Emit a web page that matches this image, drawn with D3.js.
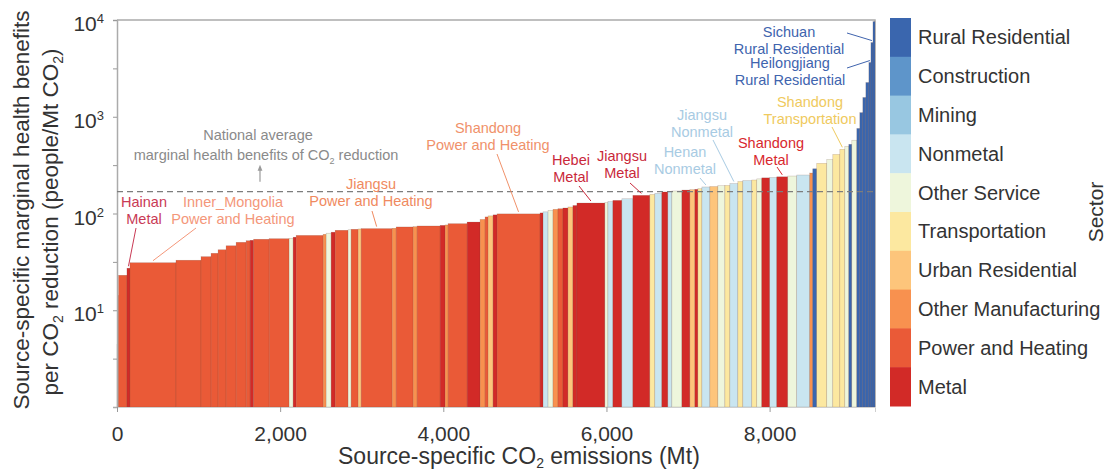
<!DOCTYPE html>
<html><head><meta charset="utf-8">
<script src="https://cdn.jsdelivr.net/npm/d3@7"></script>
<style>
html,body{margin:0;padding:0;background:#fff;}
svg{display:block;font-family:"Liberation Sans",Arial,Helvetica,sans-serif;}
</style></head><body>
<svg id="chart" width="1110" height="473"></svg>
<script>
// Sector legend, top to bottom
const sectors = ["Rural Residential","Construction","Mining","Nonmetal","Other Service",
  "Transportation","Urban Residential","Other Manufacturing","Power and Heating","Metal"];
const sectorColors = ["#3a66ae","#5e95ca","#98c7e1","#c9e5f0","#eef6dc",
  "#fce8a0","#fdc57b","#f8914f","#ea5a37","#d22a27"];
const sectorCodes = ["RR","CO","MI","NM","OS","TR","UR","OM","PH","ME"];

// Emission sources sorted by marginal benefit
const sourceSector = ["PH","PH","PH","PH","ME","PH","PH","PH","PH","PH",
  "PH","PH","PH","ME","PH","PH","OS","ME","PH","OM",
  "OS","ME","PH","OS","PH","UR","PH","OM","PH","OM",
  "PH","ME","OM","PH","ME","OM","PH","UR","ME","PH",
  "ME","NM","OS","OM","PH","ME","UR","ME","ME","OS",
  "NM","ME","NM","ME","TR","NM","ME","NM","OS","ME",
  "UR","ME","TR","NM","UR","OS","TR","NM","TR","NM",
  "TR","OS","ME","NM","ME","OS","NM","OM","RR","TR",
  "OS","TR","TR","OS","RR","OS","RR","RR","RR","RR",
  "RR","RR","RR"];
const sourceEmissions = [6,6,6,104,37,564,307,123,86,98,
  123,123,49,43,190,245,49,37,331,37,
  61,49,159,37,86,37,380,49,208,49,
  282,61,37,233,159,61,37,61,49,527,
  37,61,61,61,61,61,61,49,343,37,
  61,110,135,208,61,86,74,49,123,98,
  61,37,49,98,98,86,61,98,61,110,
  61,61,98,86,135,110,159,37,49,123,
  74,86,61,49,37,61,37,37,37,37,
  25,25,25];
const sourceBenefit = [4.4,7.9,14.3,23.0,27.2,31.0,32.9,35.8,38.8,42.2,
  46.4,50.4,52.3,52.9,54.2,54.9,55.5,56.9,59.4,61.0,
  62.6,64.1,67.1,67.9,68.7,69.2,69.8,70.4,72.6,73.1,
  74.3,75.4,76.2,78.5,81.6,86.9,92.2,94.5,96.8,99.1,
  101.4,104,107.9,110.5,112,114,116.8,121,128.3,130,
  133,136.6,142,154,157.5,161.6,166.9,169.5,171,174.7,
  176.5,177.7,180.4,188,190,194,195,204,214,219,
  222,228,233.5,236,239.5,244,250,262,290,330,
  362,408,461,494,519,572,757,1103,1582,2259,
  3634,5845,9627];

const nationalAverage = 168;
const xTickValues = [0, 2000, 4000, 6000, 8000];
const yTickValues = [Math.sqrt(10), 10, Math.sqrt(1000), 100, Math.sqrt(100000), 1000, Math.sqrt(1e7), 10000];
const yLabelValues = [10, 100, 1000, 10000];

// Highlighted sources: index into the source arrays and the label lines
const highlightSource = [4, 5, 26, 39, 48, 53, 63, 67, 74, 82, 90, 91];
const highlightText = [
  ["Hainan","Metal"], ["Inner_Mongolia","Power and Heating"], ["Jiangsu","Power and Heating"],
  ["Shandong","Power and Heating"], ["Hebei","Metal"], ["Jiangsu","Metal"],
  ["Henan","Nonmetal"], ["Jiangsu","Nonmetal"], ["Shandong","Metal"],
  ["Shandong","Transportation"], ["Heilongjiang","Rural Residential"], ["Sichuan","Rural Residential"]];

// label placement: centre x, first baseline y, leader start
const labelLayout = [
  {x:144, y:207, lx:136, ly:228, color:"#c93a55"},
  {x:233, y:207, lx:196, ly:228, color:"#f4977a"},
  {x:371, y:189, lx:372, ly:211, color:"#f08a60"},
  {x:488, y:133, lx:497, ly:154, color:"#f0916a"},
  {x:571, y:165, lx:579, ly:186, color:"#c9283a"},
  {x:622, y:161, lx:630, ly:183, color:"#c9283a"},
  {x:685, y:157, lx:700, ly:178, color:"#a8cbe3"},
  {x:702, y:120, lx:713, ly:140, color:"#a8cbe3"},
  {x:771, y:148, lx:777, ly:167, color:"#d8282e"},
  {x:810, y:107, lx:832, ly:127, color:"#efca5e"},
  {x:790, y:68, lx:847, ly:68, color:"#4064ae"},
  {x:789, y:37, lx:847, ly:33, color:"#4064ae"}];

const svg = d3.select("#chart");
const plotLeft = 117, plotRight = 875, plotTop = 20, plotBottom = 407;
const total = d3.sum(sourceEmissions);
const x = d3.scaleLinear().domain([0, total]).range([plotLeft, plotRight]);
const y = d3.scaleLog().domain([1, 10000]).range([plotBottom, plotTop]);
const color = d3.scaleOrdinal().domain(sectorCodes).range(sectorColors);

const starts = d3.cumsum([0].concat(sourceEmissions));
const sources = sourceEmissions.map((e, i) => ({
  sector: sourceSector[i], x0: starts[i], x1: starts[i] + e, v: sourceBenefit[i]}));

// frame
svg.append("path")
  .attr("d", `M${plotLeft},${plotTop}H${plotRight}V${plotBottom}`)
  .attr("fill", "none").attr("stroke", "#ababab").attr("stroke-width", 1.5);

// bars
svg.append("g").selectAll("rect").data(sources).join("rect")
  .attr("x", d => x(d.x0))
  .attr("width", d => Math.max(0.3, x(d.x1) - x(d.x0)))
  .attr("y", d => y(d.v))
  .attr("height", d => plotBottom - y(d.v))
  .attr("fill", d => color(d.sector))
  .attr("stroke", "rgba(110,70,60,0.35)")
  .attr("stroke-width", 0.5);

// y axis
const yAxis = svg.append("g").attr("transform", `translate(${plotLeft},0)`)
  .call(d3.axisLeft(y).tickValues(yTickValues).tickSize(4).tickFormat(""));
yAxis.select(".domain").attr("stroke", "#ababab").attr("stroke-width", 1.5);
yAxis.selectAll(".tick line").attr("stroke", "#999");
const yl = svg.append("g").selectAll("text").data(yLabelValues).join("text")
  .attr("x", 104).attr("y", d => y(d) + 11)
  .attr("text-anchor", "end").attr("font-size", 21).attr("fill", "#333");
yl.append("tspan").text("10");
yl.append("tspan").text(d => Math.round(Math.log10(d)))
  .attr("font-size", 13).attr("dy", -8);

// x axis
const xAxis = svg.append("g").attr("transform", `translate(0,${plotBottom})`)
  .call(d3.axisBottom(x).tickValues(xTickValues).tickSize(5).tickFormat(d3.format(",")));
xAxis.select(".domain").attr("stroke", "#cfcfcf");
xAxis.selectAll(".tick line").attr("stroke", "#999");
xAxis.selectAll(".tick text").attr("font-size", 21).attr("fill", "#333")
  .attr("dy", null).attr("y", 34);

// axis titles
const xt = svg.append("text").attr("x", 338).attr("y", 464)
  .attr("font-size", 23).attr("fill", "#333");
xt.append("tspan").text("Source-specific CO");
xt.append("tspan").text("2").attr("font-size", 14).attr("dy", 4);
xt.append("tspan").text(" emissions (Mt)").attr("dy", -4);

svg.append("text").attr("transform", "translate(29,210) rotate(-90)")
  .attr("text-anchor", "middle").attr("font-size", 22.5).attr("fill", "#333")
  .text("Source-specific marginal health benefits");
const yt2 = svg.append("text").attr("transform", "translate(58,222) rotate(-90)")
  .attr("text-anchor", "middle").attr("font-size", 22.5).attr("fill", "#333");
yt2.append("tspan").text("per CO");
yt2.append("tspan").text("2").attr("font-size", 14).attr("dy", 5);
yt2.append("tspan").text(" reduction (people/Mt CO").attr("dy", -5);
yt2.append("tspan").text("2").attr("font-size", 14).attr("dy", 5);
yt2.append("tspan").text(")").attr("dy", -5);

// national average
svg.append("line")
  .attr("x1", plotLeft).attr("x2", plotRight)
  .attr("y1", y(nationalAverage)).attr("y2", y(nationalAverage))
  .attr("stroke", "#7d7d7d").attr("stroke-width", 1.3).attr("stroke-dasharray", "6,4");
svg.append("defs").append("marker").attr("id", "arrow")
  .attr("viewBox", "0 0 10 10").attr("refX", 5).attr("refY", 5)
  .attr("markerWidth", 5).attr("markerHeight", 5).attr("orient", "auto-start-reverse")
  .append("path").attr("d", "M0,1L10,5L0,9Z").attr("fill", "#9a9a9a");
svg.append("line").attr("x1", 260).attr("x2", 260)
  .attr("y1", y(nationalAverage) - 10).attr("y2", y(nationalAverage) - 24)
  .attr("stroke", "#9a9a9a").attr("stroke-width", 1.2).attr("marker-end", "url(#arrow)");
svg.append("text").attr("x", 258).attr("y", 140).attr("text-anchor", "middle")
  .attr("font-size", 14.5).attr("fill", "#8a8a8a").text("National average");
const na = svg.append("text").attr("x", 266).attr("y", 160).attr("text-anchor", "middle")
  .attr("font-size", 14.5).attr("fill", "#8a8a8a");
na.append("tspan").text("marginal health benefits of CO");
na.append("tspan").text("2").attr("font-size", 9).attr("dy", 4);
na.append("tspan").text(" reduction").attr("dy", -4);

// highlighted sources
const ann = svg.append("g");
highlightSource.forEach((si, k) => {
  const s = sources[si], L = labelLayout[k];
  const tx = x((s.x0 + s.x1) / 2), ty = y(s.v) - 2;
  ann.append("line").attr("x1", L.lx).attr("y1", L.ly).attr("x2", tx).attr("y2", ty)
    .attr("stroke", L.color).attr("stroke-width", 1);
  highlightText[k].forEach((t, j) => {
    ann.append("text").attr("x", L.x).attr("y", L.y + j * 16.5)
      .attr("text-anchor", "middle").attr("font-size", 14.5).attr("fill", L.color).text(t);
  });
});

// legend colour bar
const legTop = 18, legBottom = 406, legX = 890, legW = 21;
const band = d3.scaleBand().domain(sectors).range([legTop, legBottom]);
const leg = svg.append("g");
leg.selectAll("rect").data(sectors).join("rect")
  .attr("x", legX).attr("y", d => band(d)).attr("width", legW)
  .attr("height", band.bandwidth() + 0.5)
  .attr("fill", (d, i) => sectorColors[i]);
leg.selectAll("text").data(sectors).join("text")
  .attr("x", 918).attr("y", d => band(d) + band.bandwidth() / 2 + 7)
  .attr("font-size", 20).attr("fill", "#333").text(d => d);
svg.append("text").attr("transform", "translate(1103,212) rotate(-90)")
  .attr("text-anchor", "middle").attr("font-size", 21).attr("fill", "#333").text("Sector");
</script>
</body></html>
